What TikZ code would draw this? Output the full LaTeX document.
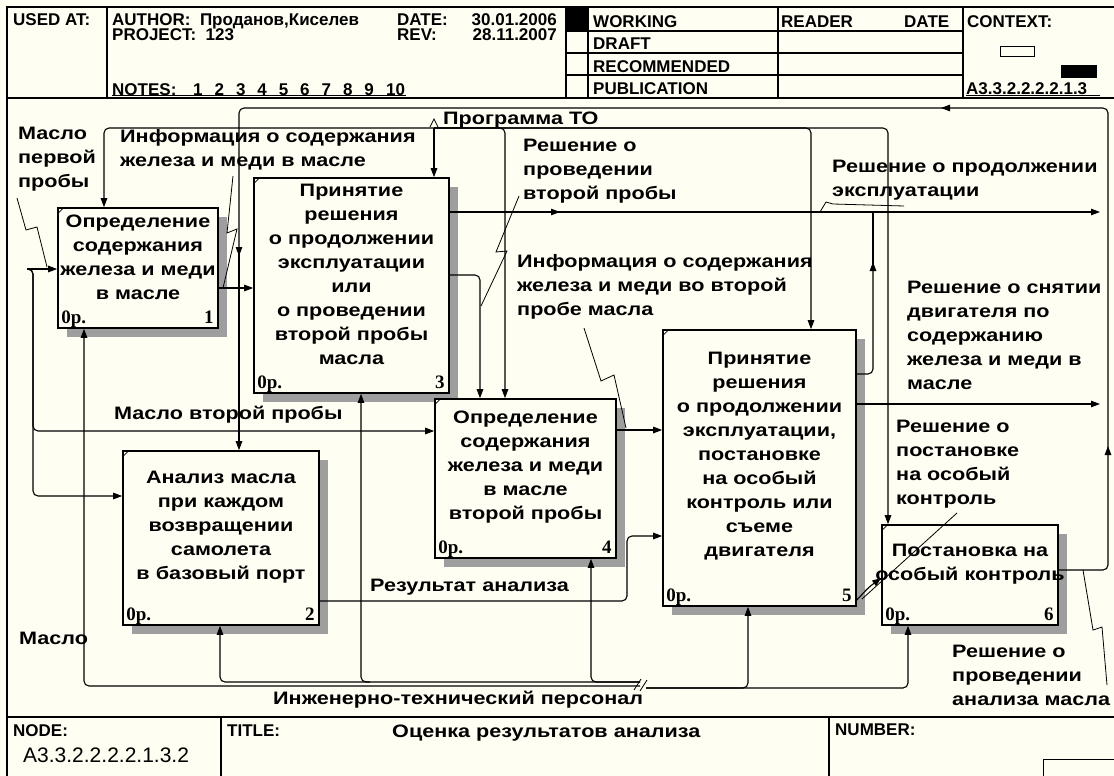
\documentclass[tikz,border=0pt]{standalone}
\usepackage{fontspec}
\setmainfont{Liberation Sans}
\newfontfamily\diagfam[FakeStretch=1.2]{Liberation Sans}
\newfontfamily\serfam{Liberation Serif}
\usetikzlibrary{arrows.meta,shadows}

\definecolor{paper}{RGB}{255,254,242}
\newcommand\txtfont{\diagfam\bfseries\fontsize{18}{24}\selectfont}
\newcommand\hdrfont{\bfseries\fontsize{17}{19}\selectfont}
\newcommand\opfont{\serfam\bfseries\fontsize{19}{20}\selectfont}

\tikzset{
  func/.style={draw, line width=1.6pt, fill=paper, inner sep=0pt,
    drop shadow={shadow xshift=9pt, shadow yshift=-9pt, fill=black!38, opacity=1}},
  ftext/.style={font=\txtfont, align=center, inner sep=0pt},
  lbl/.style={font=\txtfont, align=left, inner sep=0pt, anchor=west},
  op/.style={font=\opfont, inner sep=0pt, anchor=base west, xshift=4pt, yshift=5pt},
  opnum/.style={font=\opfont, inner sep=0pt, anchor=base east, xshift=-5pt, yshift=5pt},
  conn/.style={line width=1.1pt, rounded corners=5pt},
  arr/.style={conn, -{Triangle[length=9pt,width=6.5pt]}},
  squig/.style={line width=0.8pt},
  frame/.style={line width=1.5pt},
  hdr/.style={font=\hdrfont, inner sep=0pt, anchor=west, text height=12.2pt, text depth=0pt}
}

\begin{document}
\begin{tikzpicture}[x=1pt,y=-1pt]

\fill[paper] (0,0) rectangle (1114,776);
\useasboundingbox (0,0) rectangle (1114,776);

% Frame, header and footer
\draw[frame] (7,776) -- (7,7) -- (1114,7);
\draw[frame] (7,98) -- (1114,98);
\draw[frame] (7,717) -- (1114,717);
\foreach \x in {107,566,588,778,963}
  \draw[frame] (\x,7) -- (\x,98);
\foreach \y in {31,53,75}
  \draw[frame] (566,\y) -- (963,\y);
\fill (566,7) rectangle (588,31);
\draw[line width=1pt] (1000,47) rectangle (1034,57);
\fill (1061,65) rectangle (1097,78);
\draw[frame] (221,717) -- (221,776);
\draw[frame] (829,717) -- (829,776);
\draw[line width=1pt] (1043,759) rectangle (1116,778);

\node[hdr] (usedat) at (13,19) {USED AT:};
\node[hdr] (author) at (112,19) {AUTHOR:\ \ Проданов,Киселев};
\node[hdr] (date) at (397,19) {DATE:};
\node[hdr, anchor=east] (dateval) at (557,19) {30.01.2006};
\node[hdr] (project) at (112,34) {PROJECT:\ \ 123};
\node[hdr] (rev) at (397,34) {REV:};
\node[hdr, anchor=east] (revval) at (557,34) {28.11.2007};
\node[hdr] (notes) at (112,89) {NOTES:};
\foreach \n in {1,...,9}
  \node[hdr] (note\n) at ({171.6+21.4*\n},89) {\n};
\node[hdr] (note10) at (386,89) {10};
\draw[line width=1pt] (112,95) -- (406,95);

\node[hdr] (working) at (593,21) {WORKING};
\node[hdr] (draft) at (593,43) {DRAFT};
\node[hdr] (recommended) at (593,66) {RECOMMENDED};
\node[hdr] (publication) at (593,88) {PUBLICATION};
\node[hdr] (reader) at (781,21) {READER};
\node[hdr] (rdate) at (904,21) {DATE};
\node[hdr] (context) at (967,21) {CONTEXT:};
\node[hdr] (ctxval) at (966,88) {A3.3.2.2.2.2.1.3};
\draw[line width=1pt] (966,95) -- (1100,95);

\node[hdr] (nodelbl) at (13,730) {NODE:};
\node[hdr, font=\fontsize{21}{22}\selectfont, text height=15pt] (nodeval) at (23,755) {A3.3.2.2.2.2.1.3.2};
\node[hdr] (titlelbl) at (227,730) {TITLE:};
\node[hdr, font=\txtfont] (titleval) at (392,731) {Оценка результатов анализа};
\node[hdr] (numlbl) at (835,729) {NUMBER:};

% Function boxes
\node[func, minimum width=160pt, minimum height=120pt] (b1) at (138,268) {};
\node[func, minimum width=196pt, minimum height=174pt] (b2) at (221,538) {};
\node[func, minimum width=195pt, minimum height=215pt] (b3) at (351.5,285.5) {};
\node[func, minimum width=181pt, minimum height=159pt] (b4) at (525.5,478.5) {};
\node[func, minimum width=193pt, minimum height=276pt] (b5) at (759.5,468) {};
\node[func, minimum width=176pt, minimum height=100pt] (b6) at (970,575) {};
\foreach \b in {b1,b2,b3,b4,b5,b6}
  \draw[line width=0.8pt] ([yshift=-7pt]\b.north west) -- ([xshift=7pt]\b.north west);

\node[ftext] (b1t) at ([yshift=11pt]b1.center) {Определение\\содержания\\железа и меди\\в масле};
\node[ftext] (b2t) at ([yshift=11pt]b2.center) {Анализ масла\\при каждом\\возвращении\\самолета\\в базовый порт};
\node[ftext] (b3t) at ([yshift=11pt]b3.center) {Принятие\\решения\\о продолжении\\эксплуатации\\или\\о проведении\\второй пробы\\масла};
\node[ftext] (b4t) at ([yshift=11pt]b4.center) {Определение\\содержания\\железа и меди\\в масле\\второй пробы};
\node[ftext] (b5t) at ([yshift=12pt]b5.center) {Принятие\\решения\\о продолжении\\эксплуатации,\\постановке\\на особый\\контроль или\\съеме\\двигателя};
\node[ftext] (b6t) at ([yshift=11pt]b6.center) {Постановка на\\особый контроль};

\node[op] (b1op) at (b1.south west) {0р.};
\node[op] (b2op) at (b2.south west) {0р.};
\node[op] (b3op) at (b3.south west) {0р.};
\node[op] (b4op) at (b4.south west) {0р.};
\node[op] (b5op) at (b5.south west) {0р.};
\node[op] (b6op) at (b6.south west) {0р.};
\node[opnum] (b1no) at (b1.south east) {1};
\node[opnum] (b2no) at (b2.south east) {2};
\node[opnum] (b3no) at (b3.south east) {3};
\node[opnum] (b4no) at (b4.south east) {4};
\node[opnum] (b5no) at (b5.south east) {5};
\node[opnum] (b6no) at (b6.south east) {6};

% Arrow labels
\node[lbl] (mp1) at (18,159) {Масло\\первой\\пробы};
\node[lbl] (info1) at (120,150) {Информация о содержания\\железа и меди в масле};
\node[lbl] (prog) at (443,120) {Программа ТО};
\node[lbl] (resh2) at (523,171) {Решение о\\проведении\\второй пробы};
\node[lbl] (reshprod) at (832,180) {Решение о продолжении\\эксплуатации};
\node[lbl] (info2) at (517,287) {Информация о содержания\\железа и меди во второй\\пробе масла};
\node[lbl] (reshsn) at (907,335) {Решение о снятии\\двигателя по\\содержанию\\железа и меди в\\масле};
\node[lbl] (mp2) at (114,415) {Масло второй пробы};
\node[lbl] (reshpost) at (896,464) {Решение о\\постановке\\на особый\\контроль};
\node[lbl] (rez) at (370,587) {Результат анализа};
\node[lbl] (maslo) at (19,638) {Масло};
\node[lbl] (reshan) at (952,675) {Решение о\\проведении\\анализа масла};
\node[lbl] (ing) at (273,700) {Инженерно-технический персонал};

% Free ends
\coordinate (mIn) at (27,269);
\coordinate (progIn) at (434,128);
\coordinate (ingIn) at (640,686);
\coordinate (contOut) at (1100,212);
\coordinate (remOut) at (1100,404);

% Oil inputs
\draw[arr] (mIn) -- (b1.west |- 0,269);
\draw[arr] (mIn) -- (33,269) -- (33,431) -- (b4.west |- 0,431);
\draw[arr] (mIn) -- (33,269) -- (33,496) -- (b2.west |- 0,496);

% Maintenance programme
\draw[arr] (progIn) -- (104,128) -- (b1.north -| 104,0);
\draw[arr] (progIn) -- (b3.north -| 434,0);
\draw[arr] (progIn) -- (505,128) -- (b4.north -| 505,0);
\draw[arr] (progIn) -- (811,128) -- (b5.north -| 811,0);
\draw[arr] (progIn) -- (888,128) -- (b6.north -| 888,0);
\draw[squig] (430,127) -- (434,119) -- (438,127);

% Feedback from box 6
\draw[arr] (b6.east |- 0,570) -- (1108,570) -- (1108,446);
\draw[arr] (1108,452) -- (1108,108) -- (941,108);
\draw[arr] (946,108) -- (239,108) -- (239,256);
\draw[arr] (239,250) -- (b2.north -| 239,0);

% Between boxes
\draw[arr] (b1.east |- 0,288) -- (b3.west |- 0,288);
\draw[arr] (b3.east |- 0,275) -- (480,275) -- (b4.north -| 480,0);
\draw[arr] (b3.east |- 0,212) -- (560,212);
\draw[arr] (554,212) -- (contOut);
\draw[arr] (b5.east |- 0,374) -- (873,374) -- (873,262);
\draw[conn] (873,266) -- (873,212);
\draw[arr] (b5.east |- 0,404) -- (remOut);
\draw[arr] (b4.east |- 0,430) -- (b5.west |- 0,430);
\draw[arr] (b2.east |- 0,601) -- (627,601) -- (627,536) -- (b5.west |- 0,536);
\draw[arr] (b5.east |- 0,600) -- (869,587) -- (b6.west |- 0,578);

% Personnel
\draw[arr] (ingIn) -- (84,686) -- (b1.south -| 84,0);
\draw[arr] (ingIn |- 0,682) -- (220,682) -- (b2.south -| 220,0);
\draw[arr] (370,682) -- (361,682) -- (b3.south -| 361,0);
\draw[arr] (ingIn |- 0,682) -- (591,682) -- (b4.south -| 591,0);
\draw[arr] (646,688) -- (748,688) -- (b5.south -| 748,0);
\draw[arr] (646,688) -- (908,688) -- (b6.south -| 908,0);
\draw[squig] (634,690) -- (641,679) (640,691) -- (647,680);

% Label leaders
\draw[squig] (17,198) -- (26,230) -- (37,227) -- (47,267);
\draw[squig] (233,176) -- (227,233) -- (237,229) -- (223,288);
\draw[squig] (519,196) -- (496,252) -- (507,251) -- (481,306);
\draw[squig] (584,328) -- (601,381) -- (614,375) -- (626,428);
\draw[squig] (904,206) -- (833,204) -- (826,202) -- (820,212) -- (760,212);
\draw[squig] (957,513) -- (862,599);
\draw[squig] (1083,570) -- (1093,630) -- (1102,627) -- (1107,685);

\end{tikzpicture}
\end{document}
